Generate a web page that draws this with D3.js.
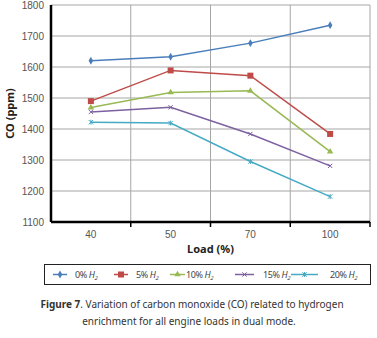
<!DOCTYPE html>
<html>
<head>
<meta charset="utf-8">
<script src="https://cdn.jsdelivr.net/npm/d3@7"></script>
<style>
  body { margin: 0; background: #fff; }
  svg { font-family: "Noto Sans", "DejaVu Sans", sans-serif; }
</style>
</head>
<body>
<svg id="chart" width="377" height="338"></svg>
<script>
// data
const loads = ["40", "50", "70", "100"];
const yTicks = [1100, 1200, 1300, 1400, 1500, 1600, 1700, 1800];
const seriesNames = ["0%", "5%", "10%", "15%", "20%"];
const h2_0 = [1620, 1633, 1677, 1735];
const h2_5 = [1490, 1589, 1572, 1384];
const h2_10 = [1469, 1518, 1523, 1327];
const h2_15 = [1455, 1470, 1384, 1281];
const h2_20 = [1422, 1419, 1295, 1182];

const colors = ["#4a7ebb", "#be4b48", "#98b954", "#7d60a0", "#46aac5"];
const shapes = ["diamond", "square", "triangle", "cross", "star"];
const series = [h2_0, h2_5, h2_10, h2_15, h2_20].map((v, i) => ({
  name: seriesNames[i], values: v, color: colors[i], shape: shapes[i]
}));

const svg = d3.select("#chart");
const margin = {top: 5, right: 7, bottom: 116, left: 51};
const width = 377 - margin.left - margin.right;
const height = 338 - margin.top - margin.bottom;
const g = svg.append("g").attr("transform", `translate(${margin.left},${margin.top})`);

const x = d3.scaleBand().domain(loads).range([0, width]);
const y = d3.scaleLinear().domain([1100, 1800]).range([height, 0]);

// grid
g.selectAll(".hgrid").data(yTicks.slice(1)).join("line")
  .attr("x1", 0).attr("x2", width)
  .attr("y1", d => y(d)).attr("y2", d => y(d))
  .attr("stroke", "#a6a6a6").attr("stroke-width", 1);
g.selectAll(".vgrid").data(loads).join("line")
  .attr("x1", d => x(d) + x.bandwidth()).attr("x2", d => x(d) + x.bandwidth())
  .attr("y1", 0).attr("y2", height)
  .attr("stroke", "#a6a6a6").attr("stroke-width", 1);

// axes
const yAxis = g.append("g")
  .call(d3.axisLeft(y).tickValues(yTicks).tickFormat(d3.format("d")).tickSize(0).tickPadding(7));
yAxis.select(".domain").remove();
yAxis.selectAll("text").attr("font-size", 10).attr("fill", "#555");

const xAxis = g.append("g").attr("transform", `translate(0,${height})`)
  .call(d3.axisBottom(x).tickSize(0).tickPadding(9));
xAxis.select(".domain").remove();
xAxis.selectAll("text").attr("font-size", 10).attr("fill", "#555");

// x tick marks at category boundaries
g.selectAll(".xtick").data(loads).join("line")
  .attr("x1", d => x(d) + x.bandwidth()).attr("x2", d => x(d) + x.bandwidth())
  .attr("y1", height).attr("y2", height + 5)
  .attr("stroke", "#000").attr("stroke-width", 1.5);

g.append("line").attr("x1", 0).attr("x2", width).attr("y1", height).attr("y2", height)
  .attr("stroke", "#000").attr("stroke-width", 2.5);
g.append("line").attr("x1", 0).attr("x2", 0).attr("y1", 0).attr("y2", height)
  .attr("stroke", "#000").attr("stroke-width", 2.5);

// axis titles
svg.append("text")
  .attr("transform", `translate(14,${margin.top + height / 2}) rotate(-90)`)
  .attr("text-anchor", "middle").attr("font-size", 11).attr("font-weight", "bold")
  .attr("fill", "#222").text("CO (ppm)");
svg.append("text")
  .attr("x", margin.left + width / 2).attr("y", 253)
  .attr("text-anchor", "middle").attr("font-size", 11).attr("font-weight", "bold")
  .attr("fill", "#222").text("Load (%)");

// markers
function marker(sel, shape, color) {
  if (shape === "diamond") {
    sel.append("path").attr("d", d3.symbol(d3.symbolDiamond, 18)()).attr("fill", color);
  } else if (shape === "square") {
    sel.append("rect").attr("x", -3).attr("y", -3)
      .attr("width", 6).attr("height", 6).attr("fill", color);
  } else if (shape === "triangle") {
    sel.append("path").attr("d", d3.symbol(d3.symbolTriangle, 18)()).attr("fill", color);
  } else if (shape === "cross") {
    sel.append("path").attr("d", d3.symbol(d3.symbolX, 14)())
      .attr("fill", "none").attr("stroke", color).attr("stroke-width", 1);
  } else {
    sel.append("path").attr("d", d3.symbol(d3.symbolX, 14)())
      .attr("fill", "none").attr("stroke", color).attr("stroke-width", 1);
    sel.append("line").attr("y1", -2.5).attr("y2", 2.5).attr("stroke", color).attr("stroke-width", 1);
  }
}

const line = d3.line()
  .x((d, i) => x(loads[i]) + x.bandwidth() / 2)
  .y(d => y(d));

series.forEach(s => {
  g.append("path").datum(s.values)
    .attr("d", line).attr("fill", "none")
    .attr("stroke", s.color).attr("stroke-width", 1.5);
  s.values.forEach((v, i) => {
    const m = g.append("g")
      .attr("transform", `translate(${x(loads[i]) + x.bandwidth() / 2},${y(v)})`);
    marker(m, s.shape, s.color);
  });
});

// legend
svg.append("rect").attr("x", 44.5).attr("y", 264.5).attr("width", 326).attr("height", 20)
  .attr("fill", "#fff").attr("stroke", "#222").attr("stroke-width", 1);
const legendX = [[53, 67, 75], [114, 128, 136], [170, 185, 186], [235, 254, 263], [291, 318, 330]];
series.forEach((s, i) => {
  const [x1, x2, tx] = legendX[i];
  const lg = svg.append("g");
  lg.append("line").attr("x1", x1).attr("x2", x2).attr("y1", 274.5).attr("y2", 274.5)
    .attr("stroke", s.color).attr("stroke-width", 1.5);
  const m = lg.append("g").attr("transform", `translate(${(x1 + x2) / 2},274.5)`);
  marker(m, s.shape, s.color);
  const t = lg.append("text").attr("x", tx).attr("y", 278)
    .attr("font-size", 9).attr("fill", "#444").attr("letter-spacing", -0.4);
  t.append("tspan").text(s.name + " ");
  t.append("tspan").attr("font-style", "italic").text("H");
  t.append("tspan").attr("font-size", 6).attr("dy", 2).attr("font-style", "italic").text("2");
});

// caption
const cap1 = svg.append("text").attr("x", 192).attr("y", 308)
  .attr("text-anchor", "middle").attr("font-size", 10).attr("fill", "#333");
cap1.append("tspan").attr("font-weight", "bold").text("Figure 7");
cap1.append("tspan").text(". Variation of carbon monoxide (CO) related to hydrogen");
svg.append("text").attr("x", 189).attr("y", 325)
  .attr("text-anchor", "middle").attr("font-size", 10).attr("fill", "#333")
  .text("enrichment for all engine loads in dual mode.");
</script>
</body>
</html>
